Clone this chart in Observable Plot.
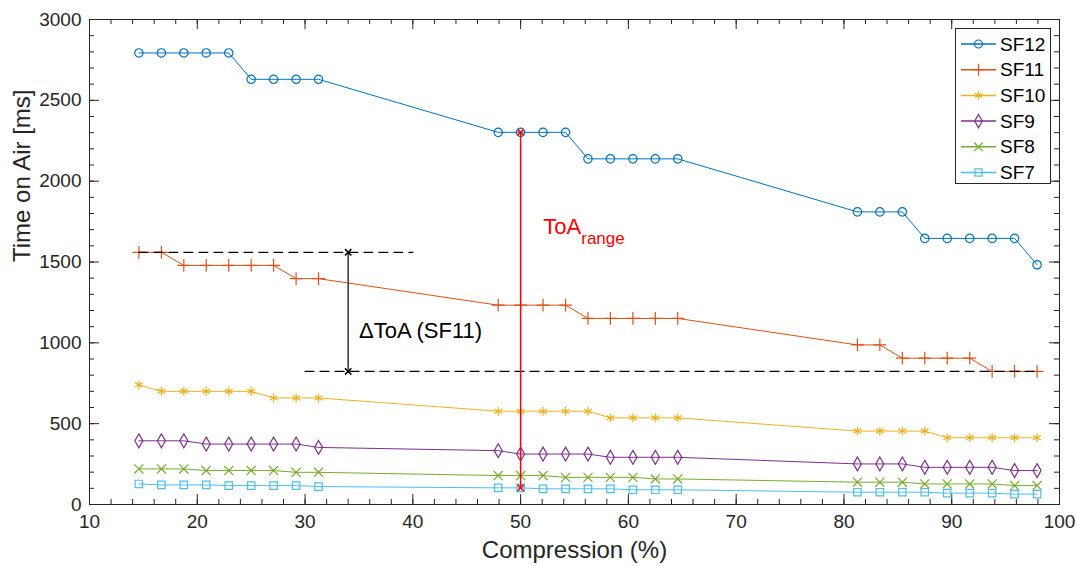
<!DOCTYPE html>
<html><head><meta charset="utf-8">
<script src="https://cdn.jsdelivr.net/npm/d3@7"></script>
<script src="https://cdn.jsdelivr.net/npm/@observablehq/plot@0.6"></script>
<style>
body{margin:0;background:#fff;font-family:"Liberation Sans",Arial,Helvetica,sans-serif;}
#wrap{position:relative;width:1076px;height:566px;}
#legend{position:absolute;left:955px;top:28px;width:94px;height:154px;border:1px solid #262626;background:#fff;}
</style></head><body><div id="wrap"></div>
<script>
const compression = [14.58,16.67,18.75,20.83,22.92,25,27.08,29.17,31.25,
  47.92,50,52.08,54.17,56.25,58.33,60.42,62.5,64.58,
  81.25,83.33,85.42,87.5,89.58,91.67,93.75,95.83,97.92];
const seriesNames = ["SF12","SF11","SF10","SF9","SF8","SF7"];
const sf12 = [2793,2793,2793,2793,2793,2630,2630,2630,2630, 2302,2302,2302,2302,2138,2138,2138,2138,2138, 1810,1810,1810,1646,1646,1646,1646,1646,1483];
const sf11 = [1560,1560,1479,1479,1479,1479,1479,1397,1397, 1233,1233,1233,1233,1151,1151,1151,1151,1151, 987,987,905,905,905,905,823,823,823];
const sf10 = [740,700,700,700,700,700,659,659,659, 577,577,577,577,577,536,536,536,536, 454,454,454,454,413,413,413,413,413];
const sf9  = [394,394,394,374,374,374,374,374,353, 333,312,312,312,312,292,292,292,292, 251,251,251,230,230,230,230,210,210];
const sf8  = [220,220,220,210,210,210,210,199,199, 179,179,179,168,168,168,168,158,158, 138,138,138,127,127,127,127,117,117];
const sf7  = [127,121,121,121,117,117,117,117,111, 103,103,97,97,97,97,91,91,91, 76,76,76,76,70,70,70,64,64];
const seriesValues = [sf12, sf11, sf10, sf9, sf8, sf7];
const colors = ["#0072BD","#D95319","#EDB120","#7E2F8E","#77AC30","#4DBEEE"];
const symbols = ["circle","plus","asterisk","diamond","times","square"];
const xTicks = [10,20,30,40,50,60,70,80,90,100];
const yTicks = [0,500,1000,1500,2000,2500,3000];
const xMinor = d3.range(10, 100.1, 2);
const yMinor = d3.range(0, 3000.1, 100);
// annotation anchors (data units)
const rangeX = 50;
const deltaX = 34;
const upperDashEnd = 40;
const lowerDashStart = 30;
const toaLabel = {x: 52.1, y: 1715};
const deltaLabel = {x: 35.0, y: 1076};

const rows = [];
seriesNames.forEach((s, i) => seriesValues[i].forEach((v, j) => rows.push({series: s, x: compression[j], y: v})));

const iRange = compression.indexOf(rangeX);
const rangeSeg = [{x: rangeX, y: sf7[iRange]}, {x: rangeX, y: sf12[iRange]}];
const last = compression.length - 1;
const deltaSeg = [{x: deltaX, y: sf11[0]}, {x: deltaX, y: sf11[last]}];
const upperDash = [{x: compression[0], y: sf11[0]}, {x: upperDashEnd, y: sf11[0]}];
const lowerDash = [{x: lowerDashStart, y: sf11[last]}, {x: compression[last], y: sf11[last]}];

const W = 1076, H = 566, mL = 89, mR = 17, mT = 19, mB = 62;
const pw = W - mL - mR, ph = H - mT - mB;
const axisColor = "#262626";
const majorLen = 10, minorLen = 5;

const chart = Plot.plot({
  width: W, height: H, marginLeft: mL, marginRight: mR, marginTop: mT, marginBottom: mB,
  style: {fontFamily: '"Liberation Sans", Arial, Helvetica, sans-serif', background: "#fff"},
  x: {domain: [10, 100], axis: null},
  y: {domain: [0, 3000], axis: null},
  color: {domain: seriesNames, range: colors},
  symbol: {domain: seriesNames, range: symbols},
  marks: [
    // ticks inward on all four sides
    Plot.tickX(xMinor, {x: d => d, insetTop: ph - minorLen, stroke: axisColor}),
    Plot.tickX(xMinor, {x: d => d, insetBottom: ph - minorLen, stroke: axisColor}),
    Plot.tickX(xTicks, {x: d => d, insetTop: ph - majorLen, stroke: axisColor}),
    Plot.tickX(xTicks, {x: d => d, insetBottom: ph - majorLen, stroke: axisColor}),
    Plot.tickY(yMinor, {y: d => d, insetRight: pw - minorLen, stroke: axisColor}),
    Plot.tickY(yMinor, {y: d => d, insetLeft: pw - minorLen, stroke: axisColor}),
    Plot.tickY(yTicks, {y: d => d, insetRight: pw - majorLen, stroke: axisColor}),
    Plot.tickY(yTicks, {y: d => d, insetLeft: pw - majorLen, stroke: axisColor}),
    Plot.frame({stroke: axisColor, strokeWidth: 1}),
    Plot.axisX(xTicks, {tickSize: 0, tickPadding: 10, fontSize: 19, label: null, color: axisColor, tickFormat: d => String(d)}),
    Plot.axisY(yTicks, {tickSize: 0, tickPadding: 8, fontSize: 19, label: null, color: axisColor, tickFormat: d => String(d)}),
    Plot.text(["Compression (%)"], {frameAnchor: "bottom", dy: 53, fontSize: 24, fill: axisColor}),
    Plot.text(["Time on Air [ms]"], {frameAnchor: "left", rotate: -90, dx: -67, fontSize: 24, fill: axisColor}),
    // data
    Plot.line(rows, {x: "x", y: "y", z: "series", stroke: "series", strokeWidth: 1}),
    Plot.dot(rows, {x: "x", y: "y", stroke: "series", symbol: "series", r: 4.2, fill: "none", strokeWidth: 1.2}),
    // annotations
    Plot.line(upperDash, {x: "x", y: "y", stroke: "#000", strokeDasharray: "9,6", strokeWidth: 1.2}),
    Plot.line(lowerDash, {x: "x", y: "y", stroke: "#000", strokeDasharray: "9,6", strokeWidth: 1.2}),
    Plot.line(deltaSeg, {x: "x", y: "y", stroke: "#333", strokeWidth: 1.5}),
    Plot.dot(deltaSeg, {x: "x", y: "y", symbol: "times", stroke: "#000", r: 3}),
    Plot.line(rangeSeg, {x: "x", y: "y", stroke: "#ff0000", strokeWidth: 1.5}),
    Plot.dot(rangeSeg, {x: "x", y: "y", symbol: "times", stroke: "#ff0000", r: 3, strokeWidth: 1.5}),
    Plot.text([toaLabel], {x: "x", y: "y", text: () => "ToA", textAnchor: "start", fontSize: 22, fill: "#ff0000"}),
    Plot.text([toaLabel], {x: "x", y: "y", text: () => "range", textAnchor: "start", dx: 38, dy: 11, fontSize: 17, fill: "#ff0000"}),
    Plot.text([deltaLabel], {x: "x", y: "y", text: () => "\u0394ToA (SF11)", textAnchor: "start", fontSize: 22, fill: "#000"})
  ]
});
const wrap = document.getElementById("wrap");
wrap.appendChild(chart);

// legend overlay
const leg = document.createElement("div");
leg.id = "legend";
wrap.appendChild(leg);
const ls = d3.select(leg).append("svg").attr("width", 94).attr("height", 154);
const symMap = {circle: d3.symbolCircle, plus: d3.symbolPlus, asterisk: d3.symbolAsterisk, diamond: d3.symbolDiamond, times: d3.symbolTimes, square: d3.symbolSquare};
seriesNames.forEach((s, i) => {
  const g = ls.append("g").attr("transform", `translate(0,${15 + i * 25.7})`);
  g.append("line").attr("x1", 5).attr("x2", 40).attr("stroke", colors[i]).attr("stroke-width", 1.5);
  g.append("path").attr("transform", "translate(22.5,0)").attr("d", d3.symbol(symMap[symbols[i]], 50)()).attr("fill", "none").attr("stroke", colors[i]).attr("stroke-width", 1.2);
  g.append("text").attr("x", 44).attr("y", 0).attr("dy", "0.35em").attr("font-size", 19).attr("fill", "#000").text(s);
});
</script></body></html>
